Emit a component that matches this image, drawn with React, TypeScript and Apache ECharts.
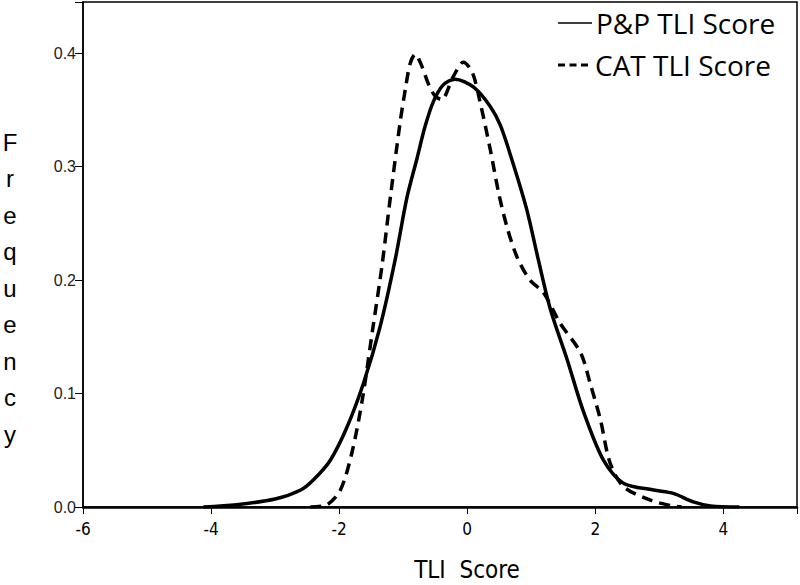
import React, { useEffect, useRef } from "react";
import * as echarts from "echarts";

const ppX = [-4.12, -3.6, -3.0, -2.6, -2.4, -2.14, -1.88, -1.62, -1.36, -1.125, -0.94, -0.78, -0.66, -0.53, -0.375, -0.19, 0.1, 0.36, 0.52, 0.72, 0.93, 1.11, 1.3, 1.56, 1.81, 2.13, 2.44, 2.91, 3.22, 3.53, 3.8, 4.25];
const ppY = [0, 0.002, 0.007, 0.015, 0.024, 0.041, 0.07, 0.109, 0.159, 0.218, 0.273, 0.308, 0.335, 0.357, 0.372, 0.377, 0.37, 0.353, 0.336, 0.302, 0.262, 0.218, 0.174, 0.13, 0.085, 0.041, 0.021, 0.015, 0.012, 0.0045, 0.001, 0];

const catX = [-2.45, -2.19, -1.98, -1.8, -1.64, -1.47, -1.33, -1.2, -1.05, -0.97, -0.89, -0.81, -0.72, -0.6, -0.5, -0.4, -0.22, -0.06, 0.08, 0.2, 0.36, 0.49, 0.62, 0.78, 0.98, 1.19, 1.45, 1.77, 1.92, 2.08, 2.23, 2.44, 2.86, 3.2, 3.35];
const catY = [0, 0.002, 0.015, 0.048, 0.094, 0.159, 0.213, 0.273, 0.338, 0.367, 0.391, 0.399, 0.39, 0.372, 0.362, 0.359, 0.379, 0.392, 0.383, 0.357, 0.315, 0.277, 0.247, 0.22, 0.2, 0.189, 0.162, 0.136, 0.109, 0.077, 0.039, 0.018, 0.006, 0.001, 0];

const seriesNames = ["P&P TLI Score", "CAT TLI Score"];
const xTitle = "TLI  Score";
const yTitle = "Frequency";

const narrow = "'Liberation Sans Narrow', 'DejaVu Sans Condensed', 'Liberation Sans', sans-serif";
const legendFont = "28px 'Open Sans', Lato, sans-serif";

export default function App() {
  const ref = useRef<HTMLDivElement>(null);
  useEffect(() => {
    if (!ref.current) return;
    const chart = echarts.init(ref.current, null, { renderer: "svg" });
    const zip = (xs: number[], ys: number[]) => xs.map((x, i) => [x, ys[i]]);
    chart.setOption({
      animation: false,
      backgroundColor: "#ffffff",
      grid: {
        left: 83,
        right: 3,
        top: 2,
        bottom: 78,
        show: true,
        borderColor: "#000",
        borderWidth: 1.5,
      },
      xAxis: {
        type: "value",
        min: -6,
        max: 5.15,
        interval: 2,
        splitLine: { show: false },
        axisLine: { show: true, onZero: false, lineStyle: { color: "#000", width: 2.5 } },
        axisTick: { show: true, length: 7, lineStyle: { color: "#000", width: 1 } },
        axisLabel: {
          color: "#000",
          fontSize: 17,
          fontFamily: narrow,
          margin: 13,
          formatter: (v: number) => (Math.abs(v / 2 - Math.round(v / 2)) < 1e-6 ? String(v) : ""),
        },
      },
      yAxis: {
        type: "value",
        min: 0,
        max: 0.445,
        interval: 0.1,
        splitLine: { show: false },
        axisLine: { show: true, onZero: false, lineStyle: { color: "#000", width: 1.5 } },
        axisTick: { show: true, length: 8, lineStyle: { color: "#000", width: 1 } },
        axisLabel: {
          color: "#222",
          fontSize: 16,
          fontFamily: "'Liberation Sans', Arial, sans-serif",
          margin: 7,
          formatter: (v: number) => (v <= 0.4001 ? v.toFixed(1) : ""),
        },
      },
      series: [
        {
          name: seriesNames[0],
          type: "line",
          data: zip(ppX, ppY),
          smooth: 0.3,
          showSymbol: false,
          lineStyle: { color: "#000", width: 3.5 },
        },
        {
          name: seriesNames[1],
          type: "line",
          data: zip(catX, catY),
          smooth: 0.3,
          showSymbol: false,
          lineStyle: { color: "#000", width: 3.5, type: [11, 7] },
        },
      ],
      graphic: [
        { type: "line", shape: { x1: 558, y1: 23, x2: 592, y2: 23 }, style: { stroke: "#000", lineWidth: 1.5 } },
        {
          type: "text",
          x: 596,
          y: 23,
          style: { text: seriesNames[0], fill: "#000", font: legendFont, textVerticalAlign: "middle" },
        },
        { type: "line", shape: { x1: 558, y1: 65, x2: 592, y2: 65 }, style: { stroke: "#000", lineWidth: 3, lineDash: [7, 4.5] } },
        {
          type: "text",
          x: 595,
          y: 65,
          style: { text: seriesNames[1], fill: "#000", font: legendFont, textVerticalAlign: "middle" },
        },
        {
          type: "text",
          x: 467,
          y: 570,
          style: { text: xTitle, fill: "#000", font: "24px " + narrow, textAlign: "center", textVerticalAlign: "middle" },
        },
        {
          type: "text",
          x: 10,
          y: 124,
          style: {
            text: yTitle.split("").join("\n"),
            fill: "#000",
            font: "24px 'Liberation Sans', Arial, sans-serif",
            textAlign: "center",
            lineHeight: 36.5,
          },
        },
      ],
    });
    return () => chart.dispose();
  }, []);
  return <div ref={ref} style={{ position: "absolute", left: 0, top: 0, width: 800, height: 585 }} />;
}
